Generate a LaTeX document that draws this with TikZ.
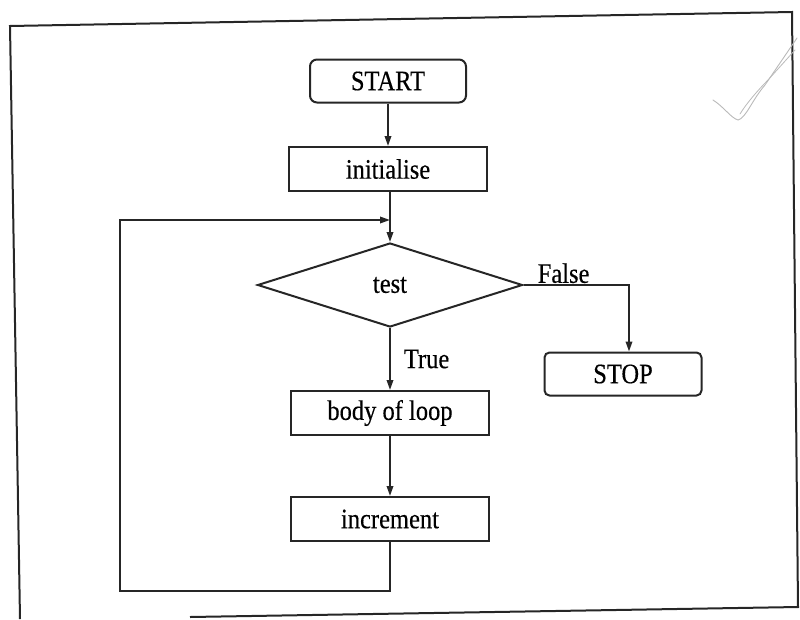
\documentclass[tikz,border=0pt]{standalone}
\usepackage{fontspec}
\setmainfont{Liberation Serif}[FakeBold=0.4]
\usepackage{graphicx}
\usetikzlibrary{shapes.geometric,arrows.meta}
% slightly tall lettering, as in a typewritten chart
\newcommand{\tallbox}[1]{\scalebox{1}[1.15]{#1}}
\begin{document}
\begin{tikzpicture}[x=1pt,y=-1pt,
  every node/.style={font=\fontsize{24.5}{28}\selectfont, text=black},
  ink/.style={draw=black!85, line width=2pt},
  procbox/.style={ink, rectangle, minimum width=198pt, minimum height=44pt, inner sep=0pt},
  termbox/.style={ink, rectangle, rounded corners=7pt, minimum width=156pt, minimum height=43pt, inner sep=0pt},
  decision/.style={ink, diamond, minimum width=265pt, minimum height=84pt, inner sep=0pt},
  flow/.style={draw=black!85, line width=1.8pt, -{Triangle[length=10pt,width=6.5pt]}},
  lbl/.style={inner sep=1pt}
]
\useasboundingbox (0,0) rectangle (800,619);

% page frame
\draw[line width=2pt, black!85] (190,617) -- (798,607) -- (792,12) -- (10,26) -- (20,619);

% pencil tick in the corner
\draw[gray!55, line width=0.9pt, line cap=round]
  (713,100) .. controls (724,107) and (731,118) .. (738,120)
  .. controls (746,118) and (752,100) .. (765,85) -- (797,38);
\draw[gray!55, line width=0.8pt, line cap=round]
  (740,114) .. controls (746,104) and (758,90) .. (768,80) -- (795,50);

% flowchart blocks
\node[termbox] (start) at (388,81) {\tallbox{START}};
\node[procbox] (init) at (388,169) {\tallbox{initialise}};
\node[decision] (test) at (390,285) {\tallbox{test}};
\node[termbox, rounded corners=5pt, minimum width=157pt] (stop) at (623,374) {\tallbox{STOP}};
\node[procbox] (body) at (390,413) {\tallbox{body of loop}};
\node[procbox] (inc) at (390,519) {\tallbox{increment}};

\coordinate (join) at (390,220);
\coordinate (loopcorner) at (120,591);

% connectors
\draw[flow] (start) -- (init);
\draw[flow] (init.south -| test.north) -- (test.north);
\draw[flow] (test) -- node[lbl, right=12pt, pos=0.5] {\tallbox{True}} (body);
\draw[flow] (test.east) -| node[lbl, above, pos=0.19] {\tallbox{False}} ([xshift=6pt]stop.north);
\draw[flow] (body) -- (inc);
\draw[flow] (inc.south) |- (loopcorner) |- (join);
\end{tikzpicture}
\end{document}
